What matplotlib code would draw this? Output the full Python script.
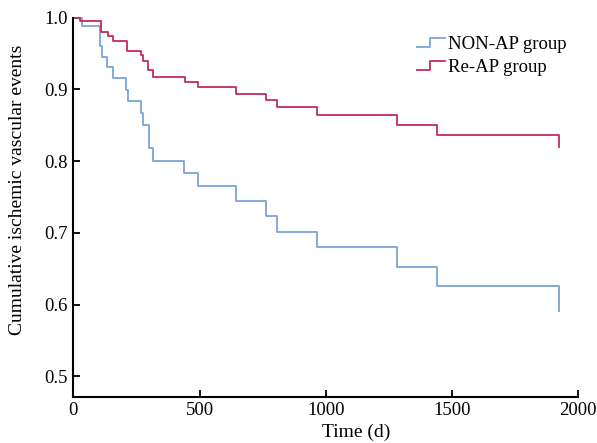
import matplotlib
matplotlib.use("Agg")
import matplotlib.pyplot as plt
from matplotlib.legend_handler import HandlerBase
from matplotlib.lines import Line2D

# Kaplan-Meier style curves (days, cumulative event-free proportion)
non_ap_t = [0, 32, 105, 112, 133, 158, 208, 217, 266, 276, 299, 316, 438, 492,
            646, 762, 809, 967, 1282, 1442, 1927]
non_ap_s = [1.0, 0.988, 0.960, 0.945, 0.931, 0.916, 0.899, 0.884, 0.867, 0.851,
            0.818, 0.801, 0.784, 0.765, 0.744, 0.723, 0.701, 0.680, 0.653, 0.626,
            0.591]

re_ap_t = [0, 26, 108, 138, 158, 211, 267, 276, 296, 316, 442, 492, 646, 762,
           809, 967, 1282, 1442, 1927]
re_ap_s = [1.0, 0.995, 0.980, 0.974, 0.967, 0.954, 0.948, 0.940, 0.927, 0.918,
           0.911, 0.903, 0.894, 0.886, 0.875, 0.865, 0.851, 0.837, 0.820]

x_ticks = [0, 500, 1000, 1500, 2000]
y_ticks = [0.5, 0.6, 0.7, 0.8, 0.9, 1.0]

blue = "#7ba4d6"
red = "#c42a5c"

plt.rcParams["font.family"] = ["Liberation Serif", "DejaVu Serif"]


class StepHandler(HandlerBase):
    # legend key drawn as a small step, like the reference
    def create_artists(self, legend, orig_handle, xdescent, ydescent,
                       width, height, fontsize, trans):
        x0, y0 = -xdescent, -ydescent
        xs = [x0, x0 + width * 0.45, x0 + width * 0.45, x0 + width]
        ys = [y0 + height * 0.15, y0 + height * 0.15, y0 + height * 0.85, y0 + height * 0.85]
        ln = Line2D(xs, ys, color=orig_handle.get_color(), lw=orig_handle.get_linewidth())
        ln.set_transform(trans)
        return [ln]


fig = plt.figure(figsize=(5.97, 4.43), dpi=100)
ax = fig.add_axes([0.123, 0.104, 0.845, 0.856])

l1, = ax.step(non_ap_t, non_ap_s, where="post", color=blue, lw=1.3,
              label="NON-AP group", clip_on=False)
l2, = ax.step(re_ap_t, re_ap_s, where="post", color=red, lw=1.3,
              label="Re-AP group", clip_on=False)

ax.set_xlim(0, 2000)
ax.set_ylim(0.4715, 1.0)
ax.set_xticks(x_ticks)
ax.set_yticks(y_ticks)
ax.set_yticklabels([f"{v:.1f}" for v in y_ticks])

for s in ["top", "right"]:
    ax.spines[s].set_visible(False)
for s in ["left", "bottom"]:
    ax.spines[s].set_linewidth(1.5)
ax.tick_params(direction="in", length=5, width=1.3, labelsize=13.5, pad=4)

ax.set_xlabel("Time (d)", fontsize=14)
ax.xaxis.set_label_coords(0.56, -0.07)
ax.set_ylabel("Cumulative ischemic vascular events", fontsize=14)
ax.yaxis.set_label_coords(-0.094, 0.545)

ax.legend(handles=[l1, l2], handler_map={Line2D: StepHandler()},
          loc="upper left", bbox_to_anchor=(417 / 597, 1 - 36 / 443),
          bbox_transform=fig.transFigure, frameon=False, fontsize=13.5,
          handlelength=1.5, handletextpad=0.15, labelspacing=0.3,
          borderaxespad=0, borderpad=0)

fig.savefig("out.png", dpi=100)
